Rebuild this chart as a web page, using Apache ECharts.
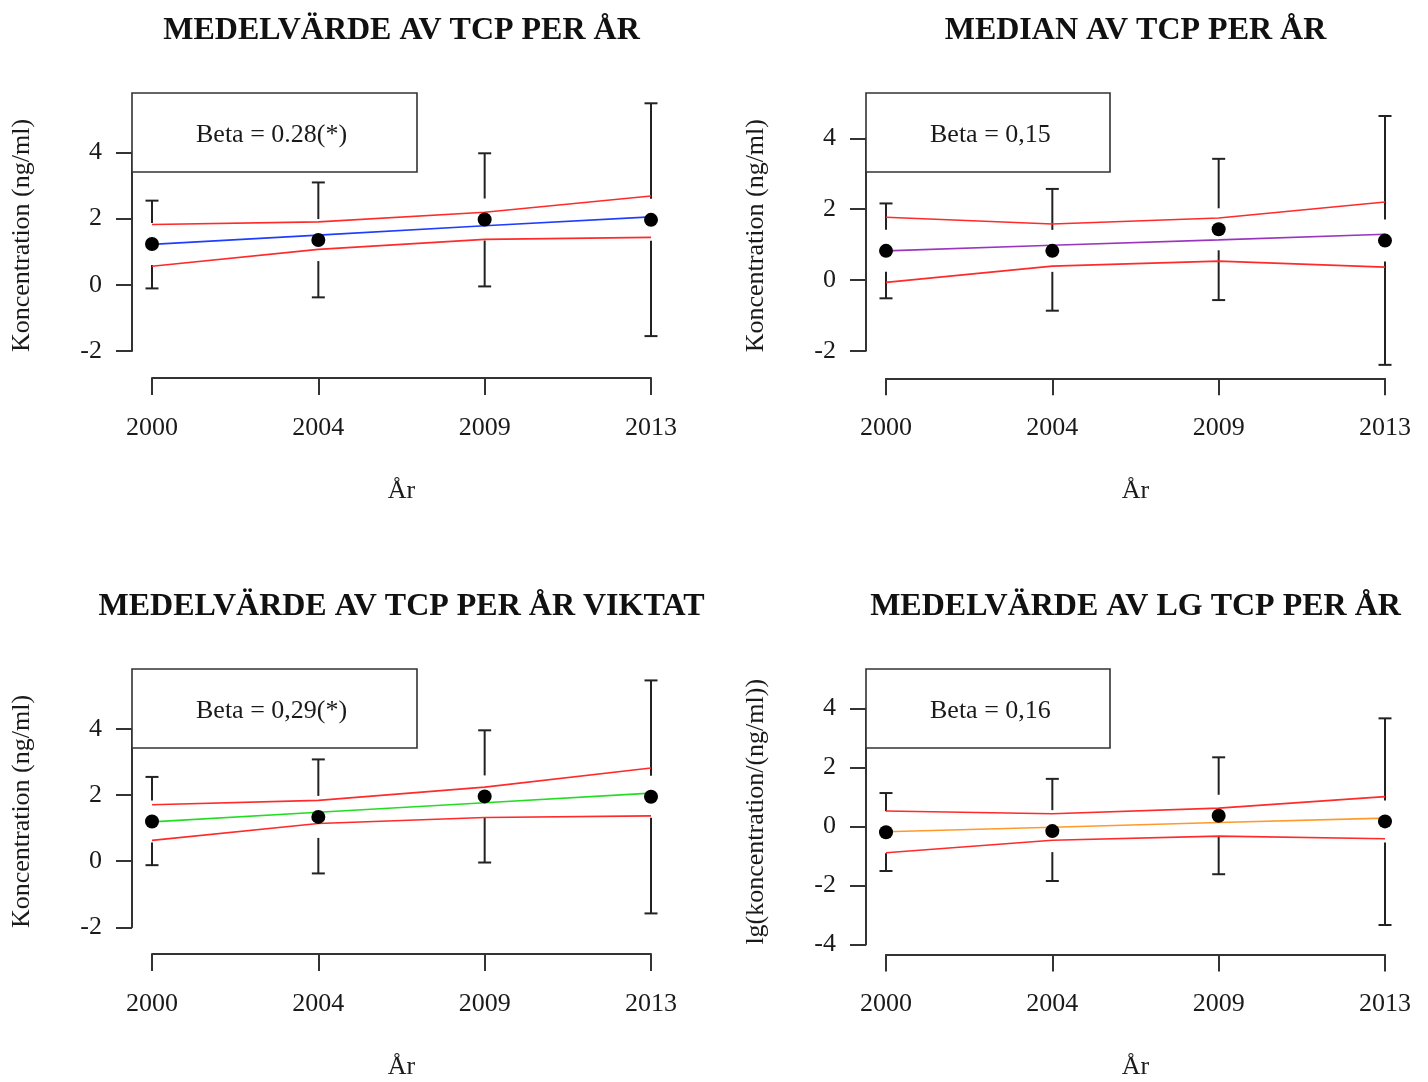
<!DOCTYPE html>
<html>
<head>
<meta charset="utf-8">
<script src="https://cdn.jsdelivr.net/npm/echarts@6/dist/echarts.min.js"></script>
<style>
  html, body { margin: 0; padding: 0; background: #ffffff; }
  #chart { width: 1428px; height: 1082px; }
</style>
</head>
<body>
<div id="chart"></div>
<script>
// Survey years (equally spaced categories)
const years = ['2000', '2004', '2009', '2013'];

// Mean TCP per year: point, error bar ends, fitted trend and its confidence band
const meanTcp       = [1.23, 1.35, 1.97, 1.96];
const meanTcpLow    = [-0.11, -0.38, -0.05, -1.55];
const meanTcpHigh   = [2.54, 3.09, 3.97, 5.48];
const meanTcpFit    = [1.22, 1.50, 1.78, 2.05];
const meanTcpCiLow  = [0.56, 1.07, 1.37, 1.43];
const meanTcpCiHigh = [1.82, 1.90, 2.19, 2.68];

// Median TCP per year
const medTcp       = [0.82, 0.82, 1.43, 1.11];
const medTcpLow    = [-0.52, -0.87, -0.57, -2.40];
const medTcpHigh   = [2.16, 2.57, 3.42, 4.63];
const medTcpFit    = [0.82, 0.98, 1.13, 1.29];
const medTcpCiLow  = [-0.07, 0.39, 0.53, 0.36];
const medTcpCiHigh = [1.77, 1.58, 1.75, 2.20];

// Weighted mean TCP per year
const wMeanTcp       = [1.20, 1.34, 1.96, 1.95];
const wMeanTcpLow    = [-0.12, -0.37, -0.04, -1.58];
const wMeanTcpHigh   = [2.55, 3.08, 3.96, 5.47];
const wMeanTcpFit    = [1.19, 1.48, 1.77, 2.06];
const wMeanTcpCiLow  = [0.63, 1.14, 1.32, 1.37];
const wMeanTcpCiHigh = [1.71, 1.84, 2.24, 2.82];

// Mean of lg(TCP) per year
const lgTcp       = [-0.20, -0.16, 0.36, 0.17];
const lgTcpLow    = [-1.51, -1.85, -1.62, -3.34];
const lgTcpHigh   = [1.13, 1.61, 2.34, 3.66];
const lgTcpFit    = [-0.18, -0.03, 0.13, 0.28];
const lgTcpCiLow  = [-0.89, -0.47, -0.33, -0.42];
const lgTcpCiHigh = [0.52, 0.43, 0.62, 1.01];

// Titles, axis names and trend labels
const titles = ['MEDELVÄRDE AV TCP PER ÅR', 'MEDIAN AV TCP PER ÅR',
                'MEDELVÄRDE AV TCP PER ÅR VIKTAT', 'MEDELVÄRDE AV LG TCP PER ÅR'];
const yNames = ['Koncentration (ng/ml)', 'Koncentration (ng/ml)',
                'Koncentration (ng/ml)', 'lg(koncentration/(ng/ml))'];
const betaLabels = ['Beta = 0.28(*)', 'Beta = 0,15', 'Beta = 0,29(*)', 'Beta = 0,16'];
const yTickRanges = [[-2, 4], [-2, 4], [-2, 4], [-4, 4]];

const panelData = [
  { mid: meanTcp,  low: meanTcpLow,  high: meanTcpHigh,  fit: meanTcpFit,  ciLow: meanTcpCiLow,  ciHigh: meanTcpCiHigh,  fitColor: '#1f3dff' },
  { mid: medTcp,   low: medTcpLow,   high: medTcpHigh,   fit: medTcpFit,   ciLow: medTcpCiLow,   ciHigh: medTcpCiHigh,   fitColor: '#9a35c0' },
  { mid: wMeanTcp, low: wMeanTcpLow, high: wMeanTcpHigh, fit: wMeanTcpFit, ciLow: wMeanTcpCiLow, ciHigh: wMeanTcpCiHigh, fitColor: '#22dd22' },
  { mid: lgTcp,    low: lgTcpLow,    high: lgTcpHigh,    fit: lgTcpFit,    ciLow: lgTcpCiLow,    ciHigh: lgTcpCiHigh,    fitColor: '#ff9a2a' }
];

// Panel geometry: first category x, y of top/bottom tick, plot frame
const layout = [
  { gx: 152, tickTop: 152.3, tickBottom: 351.0, plotTop: 93, plotBottom: 378.0, boxW: 285 },
  { gx: 886, tickTop: 138.3, tickBottom: 350.7, plotTop: 93, plotBottom: 378.3, boxW: 244 },
  { gx: 152, tickTop: 729.0, tickBottom: 927.3, plotTop: 669, plotBottom: 954.0, boxW: 285 },
  { gx: 886, tickTop: 708.3, tickBottom: 944.5, plotTop: 669, plotBottom: 954.5, boxW: 244 }
];
const SPAN = 499;      // distance 2000 -> 2013
const PAD = 20;        // frame padding beyond first/last category

const SERIF = "'Liberation Serif', 'Times New Roman', 'DejaVu Serif', serif";
const INK = '#1a1a1a';
const AXIS = '#333333';

const grids = [], xAxes = [], yAxes = [], series = [], graphics = [];

function errorBar(params, api) {
  const i = api.value(0);
  const pLow = api.coord([i, api.value(1)]);
  const pHigh = api.coord([i, api.value(2)]);
  const pMid = api.coord([i, api.value(3)]);
  const gap = 21, cap = 6.5;
  const style = { stroke: '#222', lineWidth: 2 };
  const x = pMid[0];
  return {
    type: 'group',
    children: [
      { type: 'line', shape: { x1: x, y1: pHigh[1], x2: x, y2: pMid[1] - gap }, style },
      { type: 'line', shape: { x1: x, y1: pMid[1] + gap, x2: x, y2: pLow[1] }, style },
      { type: 'line', shape: { x1: x - cap, y1: pHigh[1], x2: x + cap, y2: pHigh[1] }, style },
      { type: 'line', shape: { x1: x - cap, y1: pLow[1], x2: x + cap, y2: pLow[1] }, style }
    ]
  };
}

layout.forEach((L, k) => {
  const d = panelData[k];
  const [yMin, yMax] = yTickRanges[k];
  grids.push({ left: L.gx, top: L.tickTop, width: SPAN, height: L.tickBottom - L.tickTop, containLabel: false });

  xAxes.push({
    gridIndex: k, type: 'category', data: years, boundaryGap: false,
    position: 'bottom', offset: L.plotBottom - L.tickBottom,
    axisLine: { show: true, onZero: false, lineStyle: { color: AXIS, width: 2 } },
    axisTick: { show: true, length: 17, alignWithLabel: true, lineStyle: { color: AXIS, width: 2 } },
    axisLabel: { color: INK, fontFamily: SERIF, fontSize: 26, margin: 37 },
    splitLine: { show: false },
    name: 'År', nameLocation: 'middle', nameGap: 100,
    nameTextStyle: { color: INK, fontFamily: SERIF, fontSize: 26 }
  });

  yAxes.push({
    gridIndex: k, type: 'value', min: yMin, max: yMax, interval: 2,
    position: 'left', offset: PAD,
    axisLine: { show: true, onZero: false, lineStyle: { color: AXIS, width: 2 } },
    axisTick: { show: true, length: 16, lineStyle: { color: AXIS, width: 2 } },
    axisLabel: { color: INK, fontFamily: SERIF, fontSize: 26, margin: 30 },
    splitLine: { show: false }
  });

  series.push({
    type: 'custom', xAxisIndex: k, yAxisIndex: k, clip: false, silent: true, z: 2,
    renderItem: errorBar,
    encode: { x: 0, y: [1, 2] },
    data: years.map((_, i) => [i, d.low[i], d.high[i], d.mid[i]])
  });
  [d.ciHigh, d.ciLow].forEach(band => series.push({
    type: 'line', xAxisIndex: k, yAxisIndex: k, clip: false, silent: true, z: 3,
    symbol: 'none', data: band, lineStyle: { color: '#ff2a2a', width: 1.6 }
  }));
  series.push({
    type: 'line', xAxisIndex: k, yAxisIndex: k, clip: false, silent: true, z: 3,
    symbol: 'none', data: d.fit, lineStyle: { color: d.fitColor, width: 1.6 }
  });
  series.push({
    type: 'scatter', xAxisIndex: k, yAxisIndex: k, clip: false, silent: true, z: 4,
    symbol: 'circle', symbolSize: 14, data: d.mid, itemStyle: { color: '#000', opacity: 1 }
  });

  const plotLeft = L.gx - PAD;
  const plotRight = L.gx + SPAN + PAD;
  const cx = (plotLeft + plotRight) / 2;

  // Panel title
  graphics.push({
    type: 'text', x: cx, y: L.plotTop - 62,
    style: { text: titles[k], fill: '#111', font: `bold 32px ${SERIF}`, textAlign: 'center', textVerticalAlign: 'middle' }
  });
  // Y-axis name, centred on the plot frame
  graphics.push({
    type: 'text', x: plotLeft - 110, y: (L.plotTop + L.plotBottom) / 2, rotation: Math.PI / 2,
    style: { text: yNames[k], fill: INK, font: `26px ${SERIF}`, textAlign: 'center', textVerticalAlign: 'middle' }
  });
  // Trend box in the top-left corner of the frame
  graphics.push({
    type: 'rect', z: 10,
    shape: { x: plotLeft, y: L.plotTop, width: L.boxW, height: 79 },
    style: { fill: '#fff', stroke: AXIS, lineWidth: 1.6 }
  });
  graphics.push({
    type: 'text', z: 11, x: plotLeft + 64, y: L.plotTop + 42,
    style: { text: betaLabels[k], fill: INK, font: `26px ${SERIF}`, textAlign: 'left', textVerticalAlign: 'middle' }
  });
});

const chart = echarts.init(document.getElementById('chart'), null, { renderer: 'canvas' });
chart.setOption({
  backgroundColor: '#ffffff',
  animation: false,
  grid: grids,
  xAxis: xAxes,
  yAxis: yAxes,
  series: series,
  graphic: graphics
});
</script>
</body>
</html>
